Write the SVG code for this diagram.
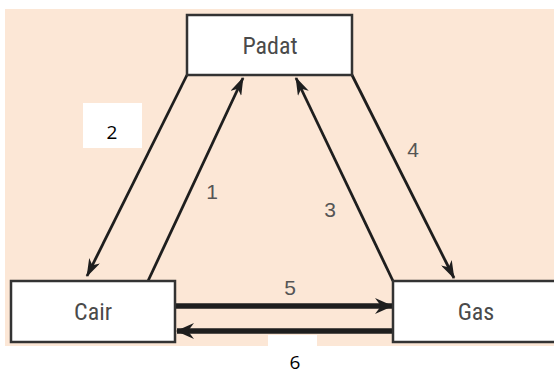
<svg xmlns="http://www.w3.org/2000/svg" width="554" height="374" viewBox="0 0 554 374">
<defs>
<style>
.box{fill:#ffffff;stroke:#333333;stroke-width:2.5}
.name{font-family:"Liberation Sans Narrow","Roboto Condensed","Liberation Sans",sans-serif;font-size:24px;fill:#4a4a4a;text-anchor:middle}
.num{font-family:"Liberation Sans Narrow","Liberation Sans",sans-serif;font-size:21px;fill:#555555;text-anchor:middle}
.lab{font-family:"Open Sans","Liberation Sans",sans-serif;font-size:19px;fill:#000000;text-anchor:middle}
.thin{stroke:#1e1e1e;stroke-width:2.8;fill:none;marker-end:url(#ah)}
.thick{stroke:#1e1e1e;stroke-width:5.5;fill:none;marker-end:url(#ahb)}
</style>
<marker id="ah" markerUnits="userSpaceOnUse" markerWidth="18" markerHeight="12" refX="17" refY="6" orient="auto" viewBox="0 0 18 12">
<path d="M0,0 L18,6 L0,12 L5,6 z" fill="#1e1e1e"/>
</marker>
<marker id="ahb" markerUnits="userSpaceOnUse" markerWidth="18" markerHeight="16" refX="17" refY="8" orient="auto" viewBox="0 0 18 16">
<path d="M0,0 L18,8 L0,16 L6,8 z" fill="#1e1e1e"/>
</marker>
</defs>
<rect x="0" y="0" width="554" height="374" fill="#ffffff"/>
<rect x="5" y="9" width="549" height="337" fill="#fce7d6"/>
<rect x="268" y="335" width="49" height="12" fill="#ffffff"/>

<g id="connectors">
<line class="thin" x1="187" y1="75" x2="87" y2="276"/>
<line class="thin" x1="148" y1="281" x2="243" y2="78"/>
<line class="thin" x1="393" y1="281" x2="296" y2="78"/>
<line class="thin" x1="352" y1="75" x2="454" y2="278"/>
<line class="thick" x1="175" y1="306" x2="392" y2="306"/>
<line class="thick" x1="393" y1="331" x2="177" y2="331"/>
</g>

<g id="padat">
<rect class="box" x="187" y="15" width="165" height="60"/>
<text class="name" x="270" y="54">Padat</text>
</g>
<g id="cair">
<rect class="box" x="11" y="281" width="164" height="61"/>
<text class="name" x="93" y="320">Cair</text>
</g>
<g id="gas">
<rect class="box" x="393" y="281" width="170" height="61"/>
<text class="name" x="476" y="320">Gas</text>
</g>

<g id="labels">
<rect x="83" y="103" width="59" height="45" fill="#ffffff"/>
<text class="lab" x="112" y="139">2</text>
<text class="num" x="212" y="199">1</text>
<text class="num" x="330" y="217">3</text>
<text class="num" x="413" y="157">4</text>
<text class="num" x="290" y="295">5</text>
<text class="lab" x="295" y="369">6</text>
</g>
</svg>
